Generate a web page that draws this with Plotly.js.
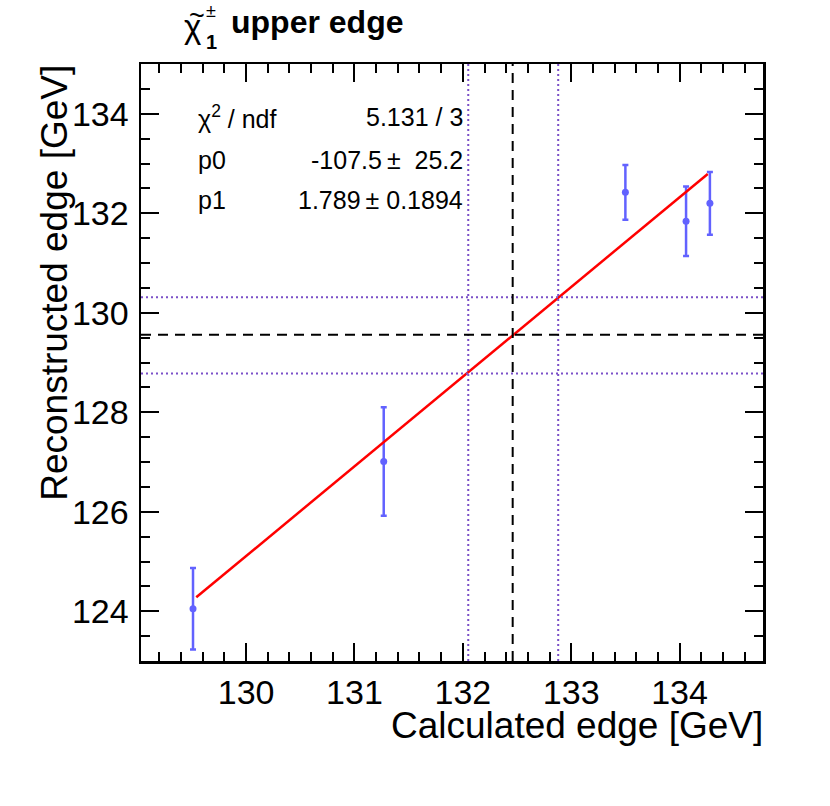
<!DOCTYPE html>
<html>
<head>
<meta charset="utf-8">
<script src="https://cdn.plot.ly/plotly-3.0.1.min.js"></script>
<style>
  body { margin: 0; background: #fff; }
  #plot { width: 830px; height: 806px; }
</style>
</head>
<body>
<div id="plot"></div>
<script>
// measured points (calculated vs reconstructed edge)
var xCalc = [129.51, 131.27, 133.50, 134.06, 134.28];
var yReco = [124.05, 127.01, 132.42, 131.84, 132.20];
var yErr  = [0.82, 1.09, 0.55, 0.70, 0.63];

// fit line endpoints
var fitX = [129.54, 134.26];
var fitY = [124.28, 132.79];

// reference lines
var xCentral = 132.46;
var xBand = [132.05, 132.88];
var yCentral = 129.56;
var yBand = [128.78, 130.31];

var xRange = [129.03, 134.77];
var yRange = [123.0, 135.0];

var statNames = ['χ<sup>2</sup> / ndf', 'p0', 'p1'];
var statValues = ['5.131 / 3', '-107.5\u2009±\u00a0\u00a025.2', '1.789\u2009±\u00a00.1894'];

var font = 'Liberation Sans, Arial, Helvetica, sans-serif';

var points = {
  x: xCalc,
  y: yReco,
  type: 'scatter',
  mode: 'markers',
  hoverinfo: 'none',
  marker: {color: '#6262ff', size: 7},
  error_y: {type: 'data', array: yErr, visible: true, color: '#6262ff', thickness: 2.5, width: 3}
};

var fit = {
  x: fitX,
  y: fitY,
  type: 'scatter',
  mode: 'lines',
  hoverinfo: 'none',
  line: {color: '#ff0000', width: 2.5}
};

var shapes = [];
function vline(x, dash, color) {
  shapes.push({type: 'line', xref: 'x', yref: 'y', x0: x, x1: x, y0: yRange[0], y1: yRange[1],
    line: {color: color, width: 2, dash: dash}});
}
function hline(y, dash, color) {
  shapes.push({type: 'line', xref: 'x', yref: 'y', x0: xRange[0], x1: xRange[1], y0: y, y1: y,
    line: {color: color, width: 2, dash: dash}});
}
xBand.forEach(function (v) { vline(v, '2px,3px', '#7b50c8'); });
yBand.forEach(function (v) { hline(v, '2px,3px', '#7b50c8'); });
vline(xCentral, '10px,7px', '#000000');
hline(yCentral, '10px,7px', '#000000');

var annotations = [];
var rowY = [0.911, 0.839, 0.772];
statNames.forEach(function (n, i) {
  annotations.push({xref: 'paper', yref: 'paper', x: 0.088, y: rowY[i], xanchor: 'left', yanchor: 'middle',
    text: n, showarrow: false, font: {family: font, size: 25, color: '#000'}});
  annotations.push({xref: 'paper', yref: 'paper', x: 0.521, y: rowY[i], xanchor: 'right', yanchor: 'middle',
    text: statValues[i], showarrow: false, font: {family: font, size: 25, color: '#000'}});
});

// title pieces
function px(x) { return (x - 141) / 622; }
function py(y) { return 1 + (64 - y) / 597; }
annotations.push({xref: 'paper', yref: 'paper', x: px(182), y: py(27),
  xanchor: 'left', yanchor: 'middle', text: 'χ', showarrow: false,
  font: {family: font, size: 33, color: '#000'}});
annotations.push({xref: 'paper', yref: 'paper', x: px(197), y: py(16),
  xanchor: 'center', yanchor: 'middle', text: '~', showarrow: false,
  font: {family: font, size: 27, color: '#000'}});
annotations.push({xref: 'paper', yref: 'paper', x: px(204), y: py(11),
  xanchor: 'left', yanchor: 'middle', text: '±', showarrow: false,
  font: {family: font, size: 18, color: '#000'}});
annotations.push({xref: 'paper', yref: 'paper', x: px(204), y: py(42),
  xanchor: 'left', yanchor: 'middle', text: '<b>1</b>', showarrow: false,
  font: {family: font, size: 20, color: '#000'}});
annotations.push({xref: 'paper', yref: 'paper', x: px(229), y: py(22),
  xanchor: 'left', yanchor: 'middle', text: '<b>upper edge</b>', showarrow: false,
  font: {family: font, size: 32, color: '#000'}});

// axis titles
annotations.push({xref: 'paper', yref: 'paper', x: 1.004, y: -(725 - 661) / 597,
  xanchor: 'right', yanchor: 'middle', text: 'Calculated edge [GeV]', showarrow: false,
  font: {family: font, size: 37, color: '#000'}});
annotations.push({xref: 'paper', yref: 'paper', x: px(55), y: 1.002,
  xanchor: 'center', yanchor: 'top', text: 'Reconstructed edge [GeV]', textangle: -90, showarrow: false,
  font: {family: font, size: 37, color: '#000'}});

var axisCommon = {
  showline: true,
  linecolor: '#000',
  linewidth: 2.5,
  mirror: 'allticks',
  ticks: 'inside',
  ticklen: 18,
  tickwidth: 2,
  tickcolor: '#000',
  showgrid: false,
  zeroline: false,
  tickfont: {family: font, size: 34, color: '#000'}
};

var layout = {
  width: 830,
  height: 806,
  margin: {l: 141, r: 67, t: 64, b: 145},
  paper_bgcolor: '#fff',
  plot_bgcolor: '#fff',
  showlegend: false,
  xaxis: Object.assign({}, axisCommon, {
    range: xRange, tick0: 130, dtick: 1, ticklabelstandoff: 0,
    minor: {dtick: 0.2, tick0: 129, ticks: 'inside', ticklen: 9, tickwidth: 2, tickcolor: '#000'}
  }),
  yaxis: Object.assign({}, axisCommon, {
    range: yRange, tick0: 124, dtick: 2, ticklabelstandoff: 3,
    minor: {dtick: 0.5, tick0: 123, ticks: 'inside', ticklen: 9, tickwidth: 2, tickcolor: '#000'}
  }),
  shapes: shapes,
  annotations: annotations
};

Plotly.newPlot('plot', [points, fit], layout, {staticPlot: true, displayModeBar: false});
</script>
</body>
</html>
